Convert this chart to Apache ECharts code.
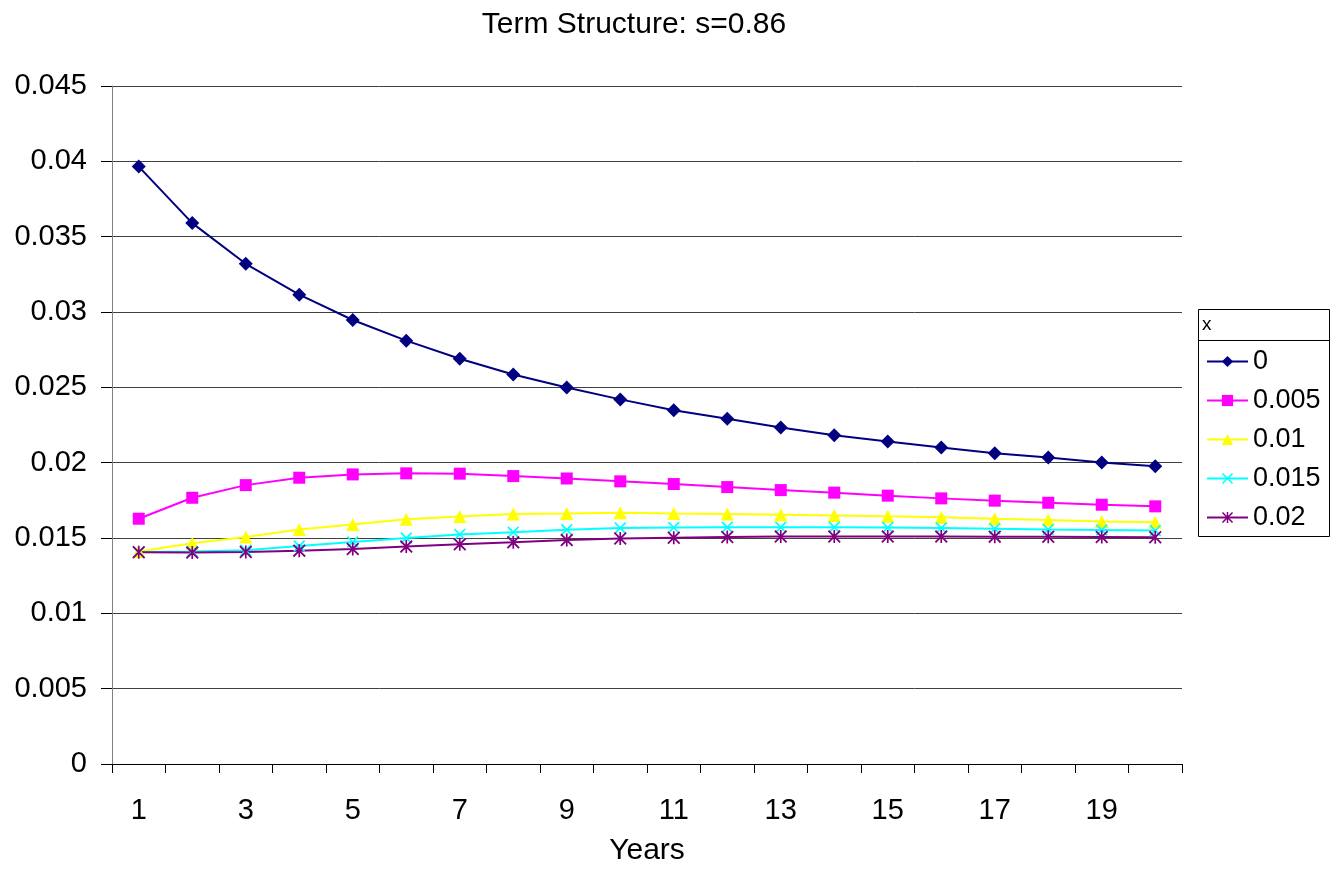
<!DOCTYPE html>
<html>
<head>
<meta charset="utf-8">
<title>Term Structure: s=0.86</title>
<script src="https://cdn.jsdelivr.net/npm/echarts@6/dist/echarts.min.js"></script>
<style>
  html, body { margin: 0; padding: 0; background: #ffffff; }
  #chart { width: 1340px; height: 871px; }
</style>
</head>
<body>
<div id="chart"></div>
<script>
// Maturities (years) on the category axis
const years = ['1','2','3','4','5','6','7','8','9','10','11','12','13','14','15','16','17','18','19','20'];

// Yield curves, one per value of x
const seriesNames = ['0', '0.005', '0.01', '0.015', '0.02'];
const yieldX0    = [0.03965,0.0359,0.0332,0.03115,0.02947,0.0281,0.0269,0.02585,0.02499,0.0242,0.02348,0.02291,0.02233,0.02182,0.02141,0.02101,0.02063,0.02035,0.02001,0.01977];
const yieldX005  = [0.01628,0.01767,0.01851,0.0190,0.01922,0.01929,0.01927,0.01911,0.01895,0.01876,0.01858,0.01838,0.01818,0.01801,0.01781,0.01763,0.01748,0.01734,0.01721,0.0171];
const yieldX01   = [0.0141,0.01465,0.01506,0.01557,0.0159,0.01624,0.01642,0.01659,0.01663,0.01668,0.01663,0.01659,0.01655,0.0165,0.01644,0.01637,0.01628,0.01619,0.0161,0.01604];
const yieldX015  = [0.01407,0.0141,0.01418,0.01447,0.01473,0.015,0.01524,0.01538,0.01555,0.01566,0.01569,0.01571,0.01571,0.01571,0.01569,0.01566,0.01562,0.01557,0.01553,0.01549];
const yieldX02   = [0.01405,0.01403,0.01407,0.01416,0.01427,0.01443,0.01458,0.01471,0.01486,0.01497,0.01502,0.01507,0.0151,0.0151,0.0151,0.0151,0.01509,0.01508,0.01507,0.01505];

// Y axis range
const yMin = 0, yMax = 0.045, yStep = 0.005;

const FONT = '"Liberation Sans", Arial, sans-serif';

// Filled marker shapes: a thin X cross and an asterisk (X plus vertical bar)
const crossPath = 'path://M1,0L5,4L9,0L10,1L6,5L10,9L9,10L5,6L1,10L0,9L4,5L0,1Z';
const starPath  = 'path://M1,0L5,4L9,0L10,1L6,5L10,9L9,10L5,6L1,10L0,9L4,5L0,1Z M4.35,0L5.65,0L5.65,10L4.35,10Z';

const styles = [
  { data: yieldX0,   color: '#000080', symbol: 'diamond',  size: 14 },
  { data: yieldX005, color: '#FF00FF', symbol: 'rect',     size: 12 },
  { data: yieldX01,  color: '#FFFF00', symbol: 'triangle', size: 13 },
  { data: yieldX015, color: '#00FFFF', symbol: crossPath,  size: 12 },
  { data: yieldX02,  color: '#800080', symbol: starPath,   size: 13 }
];

const chart = echarts.init(document.getElementById('chart'));

chart.setOption({
  animation: false,
  backgroundColor: '#ffffff',
  textStyle: { fontFamily: FONT },
  grid: { left: 112, right: 158, top: 86, bottom: 106, containLabel: false },
  xAxis: {
    type: 'category',
    data: years,
    boundaryGap: true,
    name: 'Years',
    nameLocation: 'middle',
    nameGap: 72,
    nameTextStyle: { fontSize: 30, color: '#000', fontFamily: FONT },
    axisLine: { show: true, lineStyle: { color: '#000', width: 1 } },
    axisTick: { show: true, interval: 0, length: 9, lineStyle: { color: '#000' } },
    axisLabel: { interval: 1, fontSize: 29, color: '#000', margin: 32, fontFamily: FONT },
    splitLine: { show: false }
  },
  yAxis: {
    type: 'value',
    min: yMin,
    max: yMax,
    interval: yStep,
    axisLine: { show: true, lineStyle: { color: '#808080', width: 1 } },
    axisTick: { show: true, length: 11, lineStyle: { color: '#000' } },
    axisLabel: {
      fontSize: 29, color: '#000', margin: 25, fontFamily: FONT,
      formatter: v => String(+v.toFixed(3))
    },
    splitLine: { show: true, lineStyle: { color: '#404040', width: 1 } }
  },
  legend: {
    orient: 'vertical',
    left: 1206,
    top: 348,
    itemWidth: 41,
    itemHeight: 14,
    itemGap: 12,
    z: 10,
    padding: 0,
    textStyle: { fontSize: 27, lineHeight: 27, color: '#000', fontFamily: FONT },
    data: seriesNames
  },
  graphic: {
    elements: [
      {
        type: 'text', z: 5,
        x: 634, y: 25,
        style: { text: 'Term Structure: s=0.86', font: '30px ' + FONT, fill: '#000', textAlign: 'center', verticalAlign: 'middle' }
      },
      {
        type: 'rect', z: 1,
        shape: { x: 1198.5, y: 309.5, width: 131, height: 227 },
        style: { fill: '#fff', stroke: '#000', lineWidth: 1 }
      },
      {
        type: 'line', z: 2,
        shape: { x1: 1198.5, y1: 340.5, x2: 1329.5, y2: 340.5 },
        style: { stroke: '#000', lineWidth: 1 }
      },
      {
        type: 'text', z: 3,
        x: 1202, y: 325,
        style: { text: 'x', font: '19px ' + FONT, fill: '#000', verticalAlign: 'middle', textAlign: 'left' }
      }
    ]
  },
  series: styles.map((s, i) => ({
    name: seriesNames[i],
    type: 'line',
    data: s.data,
    symbol: s.symbol,
    symbolSize: s.size,
    showAllSymbol: true,
    smooth: false,
    lineStyle: { color: s.color, width: 2 },
    itemStyle: { color: s.color, borderWidth: 0 },
    emphasis: { disabled: true }
  }))
});
</script>
</body>
</html>
